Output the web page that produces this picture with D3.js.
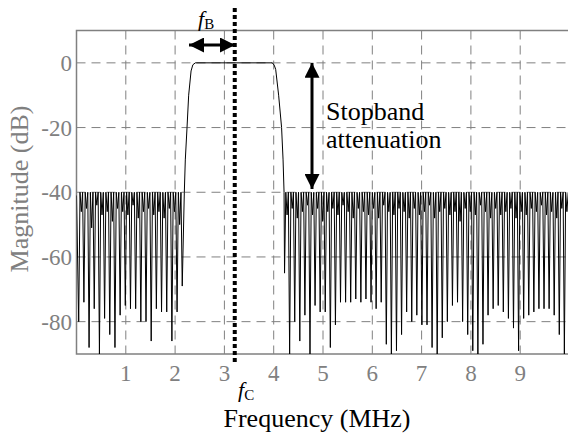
<!DOCTYPE html>
<html>
<head>
<meta charset="utf-8">
<script src="https://cdn.jsdelivr.net/npm/d3@7/dist/d3.min.js"></script>
<style>
  body { margin: 0; background: #fff; }
  text { font-family: "Liberation Serif", "Times New Roman", serif; }
</style>
</head>
<body>
<div id="chart"></div>
<script>
// ticks
const xTicks = [1, 2, 3, 4, 5, 6, 7, 8, 9];
const yTicks = [0, -20, -40, -60, -80];

// passband edges [MHz, dB]
const passLeft = [[2.187, -40], [2.207, -30], [2.242, -20], [2.275, -10], [2.324, -2.5], [2.36, -0.6], [2.41, 0]];
const passRight = [[3.97, 0], [4.01, -0.7], [4.04, -2], [4.1, -10], [4.16, -20], [4.19, -30], [4.21, -40]];

// stopband ripple: peaks sit at -40 dB, notches between them
const ripplePeakDb = -40;
const leftStartDb = -41;
const leftNotchStart = 0.045, leftNotchStep = 0.105;
const leftNotchDb = [-80, -74, -88, -76, -90, -79, -84, -88, -78, -75, -76, -76, -80, -80, -86, -76, -77, -77, -86, -77, -69];
const leftDipDb = [-46, -45, -51, -44, -47, -46, -49, -45, -46, -47, -44, -48, -46, -45, -47, -46, -48, -45, -46, -50];

const rightNotchStart = 4.22, rightNotchStep = 0.1032;
const rightNotchDb = [-65, -90, -80, -86, -78, -90, -75, -77, -77, -88, -81, -74, -74, -74, -73,
  -74, -73, -74, -76, -74, -87, -90, -89, -84, -77, -80, -78, -81, -81, -88,
  -90, -85, -80, -75, -74, -80, -84, -89, -90, -87, -78, -76, -75, -77,
  -79, -82, -89, -79, -78, -77, -76, -76, -76, -78, -84, -90];
const rightDipDb = [-47, -45, -48, -46, -44, -47, -45, -49, -46, -45, -47, -44, -46, -48, -45,
  -46, -47, -45, -48, -44, -46, -47, -45, -46, -48, -45, -47, -46, -44, -48,
  -46, -45, -47, -46, -49, -45, -46, -47, -44, -46, -48, -45, -47, -46,
  -45, -48, -46, -47, -45, -46, -44, -47, -46, -48, -45, -46];

const fC = 3.21;

// build the response curve
const curve = [[0, leftStartDb]];
leftNotchDb.forEach((v, i) => {
  const f = leftNotchStart + i * leftNotchStep;
  curve.push([f, v]);
  if (i < leftDipDb.length) {
    curve.push([f + leftNotchStep * 0.25, ripplePeakDb]);
    curve.push([f + leftNotchStep * 0.5, leftDipDb[i]]);
    curve.push([f + leftNotchStep * 0.75, ripplePeakDb]);
  }
});
passLeft.forEach(p => curve.push(p));
passRight.forEach(p => curve.push(p));
rightNotchDb.forEach((v, i) => {
  const f = rightNotchStart + i * rightNotchStep;
  curve.push([f, v]);
  curve.push([f + rightNotchStep * 0.25, ripplePeakDb]);
  curve.push([f + rightNotchStep * 0.5, rightDipDb[i]]);
  curve.push([f + rightNotchStep * 0.75, ripplePeakDb]);
});

const width = 568, height = 438;
const gray = '#808080';

const svg = d3.select('#chart').append('svg')
  .attr('width', width)
  .attr('height', height);

const x = d3.scaleLinear().domain([0, 10]).range([76.5, 569.5]);
const y = d3.scaleLinear().domain([-90, 10]).range([354, 30.5]);

// grid
svg.selectAll('.vgrid')
  .data(xTicks)
  .enter()
  .append('line')
  .attr('x1', d => x(d)).attr('x2', d => x(d))
  .attr('y1', y(10)).attr('y2', y(-90))
  .style('stroke', gray)
  .style('stroke-width', 1)
  .style('stroke-dasharray', '9,6');

svg.selectAll('.hgrid')
  .data(yTicks)
  .enter()
  .append('line')
  .attr('x1', x(0)).attr('x2', width)
  .attr('y1', d => y(d)).attr('y2', d => y(d))
  .style('stroke', gray)
  .style('stroke-width', 1)
  .style('stroke-dasharray', '9,6');

// frame
svg.append('path')
  .attr('d', `M${width},${y(10)}H${x(0)}V${y(-90)}H${width}`)
  .style('fill', 'none')
  .style('stroke', gray)
  .style('stroke-width', 1.5);

// clip + curve
svg.append('clipPath').attr('id', 'clip')
  .append('rect')
  .attr('x', x(0)).attr('y', y(10))
  .attr('width', width - x(0)).attr('height', y(-90) - y(10));

const line = d3.line()
  .x(d => x(d[0]))
  .y(d => y(d[1]));

svg.append('path')
  .datum(curve)
  .attr('clip-path', 'url(#clip)')
  .attr('d', line)
  .style('fill', 'none')
  .style('stroke', '#000')
  .style('stroke-width', 1);

// tick labels
svg.selectAll('.xlab')
  .data(xTicks)
  .enter()
  .append('text')
  .attr('x', d => x(d))
  .attr('y', 381)
  .attr('text-anchor', 'middle')
  .style('font-size', '23px')
  .style('fill', gray)
  .text(d => d);

svg.selectAll('.ylab')
  .data(yTicks)
  .enter()
  .append('text')
  .attr('x', 72)
  .attr('y', d => y(d) + 8)
  .attr('text-anchor', 'end')
  .style('font-size', '23px')
  .style('fill', gray)
  .text(d => d);

// axis titles
svg.append('text')
  .attr('transform', 'translate(28,189) rotate(-90)')
  .attr('text-anchor', 'middle')
  .style('font-size', '26px')
  .style('fill', gray)
  .text('Magnitude (dB)');

svg.append('text')
  .attr('x', 317)
  .attr('y', 427)
  .attr('text-anchor', 'middle')
  .style('font-size', '26px')
  .style('fill', '#000')
  .text('Frequency (MHz)');

// fC dotted line
svg.append('line')
  .attr('x1', x(fC)).attr('x2', x(fC))
  .attr('y1', 8).attr('y2', 362)
  .style('stroke', '#000')
  .style('stroke-width', 4)
  .style('stroke-dasharray', '4,3');

// arrows
const defs = svg.append('defs');
defs.append('marker')
  .attr('id', 'head')
  .attr('viewBox', '0 0 10 10')
  .attr('refX', 10).attr('refY', 5)
  .attr('markerWidth', 5).attr('markerHeight', 5)
  .attr('markerUnits', 'strokeWidth')
  .attr('orient', 'auto-start-reverse')
  .append('path')
  .attr('d', 'M0,0L10,5L0,10Z')
  .style('fill', '#000');

svg.append('line')
  .attr('x1', 189).attr('x2', 235)
  .attr('y1', 45).attr('y2', 45)
  .style('stroke', '#000')
  .style('stroke-width', 3)
  .attr('marker-start', 'url(#head)')
  .attr('marker-end', 'url(#head)');

svg.append('line')
  .attr('x1', 312).attr('x2', 312)
  .attr('y1', y(0)).attr('y2', y(-39))
  .style('stroke', '#000')
  .style('stroke-width', 3)
  .attr('marker-start', 'url(#head)')
  .attr('marker-end', 'url(#head)');

// annotation text
const fb = svg.append('text')
  .attr('x', 198).attr('y', 26)
  .style('font-size', '22px');
fb.append('tspan').style('font-style', 'italic').text('f');
fb.append('tspan').attr('dy', 3).style('font-size', '15px').text('B');

const fc = svg.append('text')
  .attr('x', 238).attr('y', 397)
  .style('font-size', '22px');
fc.append('tspan').style('font-style', 'italic').text('f');
fc.append('tspan').attr('dy', 3).style('font-size', '15px').text('C');

svg.append('text')
  .attr('x', 326).attr('y', 120)
  .style('font-size', '26px')
  .text('Stopband');
svg.append('text')
  .attr('x', 326).attr('y', 148)
  .style('font-size', '26px')
  .text('attenuation');
</script>
</body>
</html>
